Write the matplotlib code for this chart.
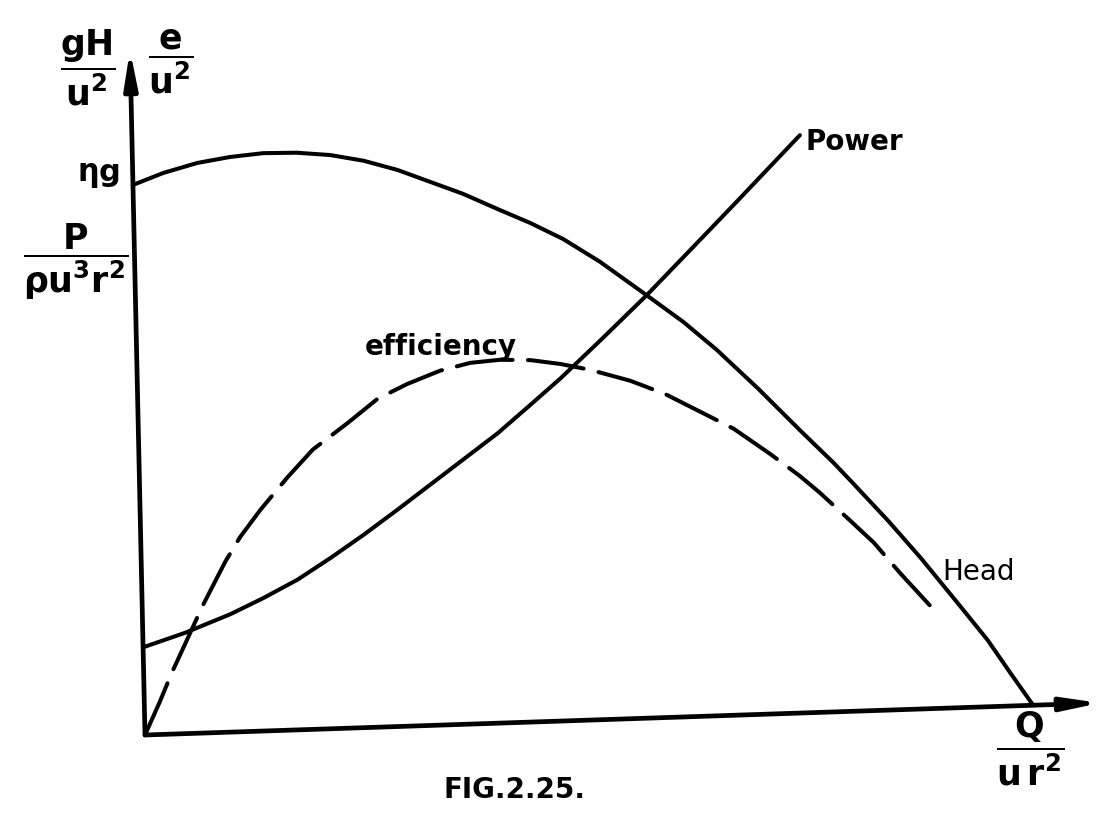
import numpy as np
import matplotlib
matplotlib.use("Agg")
import matplotlib.pyplot as plt
from matplotlib.transforms import Affine2D

plt.rcParams['mathtext.fontset'] = 'custom'
plt.rcParams['mathtext.rm'] = 'DejaVu Sans:bold'
plt.rcParams['mathtext.it'] = 'DejaVu Sans:bold'
plt.rcParams['mathtext.default'] = 'rm'

# curves, in axis units (Q along the flow axis, value up)
head_q = [0, 0.032, 0.068, 0.102, 0.137, 0.172, 0.207, 0.242, 0.277, 0.311, 0.345, 0.381, 0.415,
          0.449, 0.487, 0.535, 0.573, 0.607, 0.649, 0.692, 0.727, 0.747, 0.782, 0.816, 0.836,
          0.856, 0.884, 0.907, 0.930]
head_v = [0.803, 0.819, 0.832, 0.839, 0.843, 0.842, 0.837, 0.827, 0.812, 0.793, 0.774, 0.750, 0.728,
          0.703, 0.668, 0.617, 0.576, 0.534, 0.476, 0.413, 0.363, 0.332, 0.277, 0.220, 0.184,
          0.148, 0.097, 0.048, 0.0]

power_q = [0, 0.044, 0.092, 0.127, 0.163, 0.198, 0.233, 0.269, 0.304, 0.339, 0.376, 0.411,
           0.443, 0.486, 0.535, 0.592, 0.632, 0.699]
power_v = [0.128, 0.147, 0.172, 0.194, 0.219, 0.249, 0.281, 0.316, 0.351, 0.386, 0.423, 0.463,
           0.500, 0.554, 0.617, 0.695, 0.750, 0.843]

eff_q = [0, 0.016, 0.030, 0.042, 0.063, 0.088, 0.104, 0.126, 0.155, 0.182, 0.219, 0.251, 0.282,
         0.317, 0.349, 0.380, 0.412, 0.443, 0.474, 0.516, 0.552, 0.589, 0.623, 0.661, 0.691,
         0.712, 0.743, 0.767, 0.794, 0.824]
eff_v = [0, 0.047, 0.091, 0.125, 0.185, 0.249, 0.284, 0.323, 0.369, 0.408, 0.445, 0.479, 0.499,
         0.517, 0.527, 0.530, 0.528, 0.521, 0.511, 0.493, 0.472, 0.444, 0.418, 0.379, 0.346,
         0.320, 0.278, 0.245, 0.199, 0.151]

fig = plt.figure(figsize=(11.1, 8.14), dpi=100)
ax = fig.add_axes([0, 0, 1, 1])
ax.set_xlim(0, 1110)
ax.set_ylim(814, 0)
ax.axis('off')

# hand drawn axes are slightly skewed, so map axis units onto the page with an affine frame
frame = Affine2D().from_values(955, -32, -15, -685, 145, 735) + ax.transData

lw = 2.9
ax.plot(head_q, head_v, color='black', lw=lw, transform=frame,
        solid_capstyle='round', solid_joinstyle='round')
ax.plot(power_q, power_v, color='black', lw=lw, transform=frame,
        solid_capstyle='round', solid_joinstyle='round')
ax.plot(eff_q, eff_v, color='black', lw=lw, transform=frame, dashes=(14, 3.8),
        dash_capstyle='round', dash_joinstyle='round')

# axes with arrows
arrow = dict(arrowstyle='-|>,head_length=1.0,head_width=0.18', lw=3.4, color='black',
             mutation_scale=22, shrinkA=0, shrinkB=0)
ax.annotate('', xy=(1, 0), xytext=(0, 0), xycoords=frame, textcoords=frame, arrowprops=arrow)
ax.annotate('', xy=(0, 1), xytext=(0, 0), xycoords=frame, textcoords=frame, arrowprops=arrow)

# labels
ax.text(88, 68, r'$\dfrac{gH}{u^2}$', fontsize=25, ha='center', va='center')
ax.text(171, 62, r'$\dfrac{e}{u^2}$', fontsize=25, ha='center', va='center')
ax.text(98, 175, r'$\eta$g', fontsize=22, ha='center', va='center', fontweight='bold')
ax.text(76, 262, r'$\dfrac{P}{\rho u^3 r^2}$', fontsize=25, ha='center', va='center')
ax.text(1030, 749, r'$\dfrac{Q}{u\,r^2}$', fontsize=25, ha='center', va='center')

ax.text(805, 142, 'Power', fontsize=20, ha='left', va='center', fontweight='bold')
ax.text(365, 347, 'efficiency', fontsize=20, ha='left', va='center', fontweight='bold')
ax.text(942, 572, 'Head', fontsize=20, ha='left', va='center')
ax.text(515, 790, 'FIG.2.25.', fontsize=20, ha='center', va='center', fontweight='bold')

fig.savefig('out.png', dpi=100, facecolor='white')
